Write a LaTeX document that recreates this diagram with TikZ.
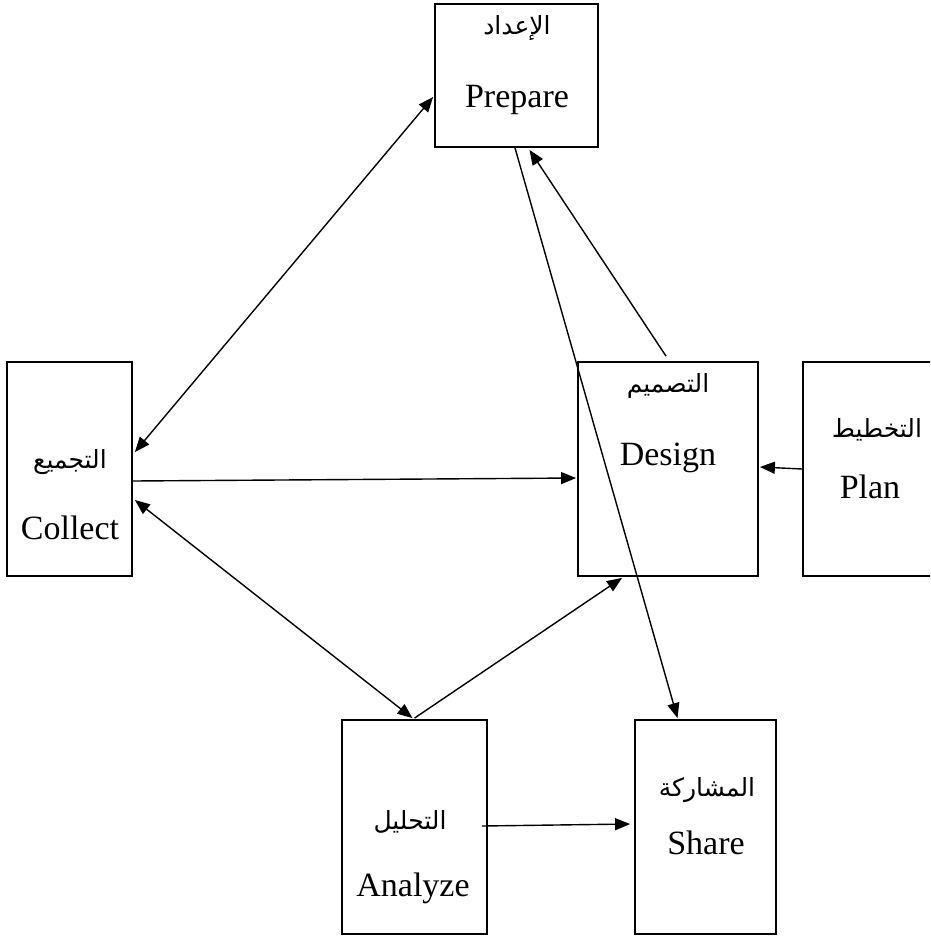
\documentclass[tikz,border=0pt]{standalone}
\usepackage{fontspec}
\setmainfont{Liberation Serif}
\newfontfamily\arabicfont[Script=Arabic]{DejaVu Sans}
\TeXXeTstate=1
\usetikzlibrary{arrows.meta,calc}
\begin{document}
\begin{tikzpicture}[x=1pt,y=-1pt,
  box/.style={draw,line width=1.8pt,minimum width=#1,inner sep=0pt},
  box/.default={140pt},
  lat/.style={font=\fontsize{34}{40}\selectfont,inner sep=0pt},
  arb/.style={font=\arabicfont\fontsize{25}{30}\selectfont,inner sep=0pt},
  conn/.style={line width=1.4pt,-{Triangle[length=15pt,width=12pt]}},
  conn2/.style={line width=1.4pt,{Triangle[length=15pt,width=12pt]}-{Triangle[length=15pt,width=12pt]}}]
\clip (0,0) rectangle (930,938);
\fill[white] (0,0) rectangle (930,938);
% boxes
\node[box=163pt,minimum height=143pt] (prep) at (516.5,75.5) {};
\node[box=125pt,minimum height=214pt] (col) at (69.5,469) {};
\node[box=180pt,minimum height=214pt] (des) at (668,469) {};
\node[box=157pt,minimum height=214pt] (plan) at (881.5,469) {};
\node[box=145pt,minimum height=214pt] (ana) at (414.5,827) {};
\node[box=141pt,minimum height=214pt] (sha) at (705.5,827) {};
% labels
\node[arb] (prepA) at (517,28) {\beginR الإعداد\endR};
\node[lat] (prepL) at (517,100) {Prepare};
\node[arb] (colA) at (70,462) {\beginR التجميع\endR};
\node[lat] (colL) at (70,528) {Collect};
\node[arb] (desA) at (668,386) {\beginR التصميم\endR};
\node[lat] (desL) at (668,458) {Design};
\node[arb] (planA) at (877,430) {\beginR التخطيط\endR};
\node[lat] (planL) at (870,487) {Plan};
\node[arb] (anaA) at (410,822) {\beginR التحليل\endR};
\node[lat] (anaL) at (413,888) {Analyze};
\node[arb] (shaA) at (707,790) {\beginR المشاركة\endR};
\node[lat] (shaL) at (706,843) {Share};
% connectors
\draw[conn2] ($(prep.west)+(-1,21.5)$) -- ($(col.east)+(2,-17)$);
\draw[conn] ($(col.east)+(0,12)$) -- ($(des.west)+(-1,9)$);
\draw[conn2] ($(col.east)+(2,31)$) -- ($(ana.north)+(-2,-1)$);
\draw[conn] ($(ana.north)+(0,-1)$) -- ($(des.south)+(-46,1)$);
\draw[conn] ($(des.north)+(-2,-5)$) -- ($(prep.south)+(13,2)$);
\draw[conn] ($(prep.south)+(-1.5,0)$) -- ($(sha.north)+(-28,-1)$);
\draw[conn] (plan.west) -- ($(des.east)+(1,-2)$);
\draw[conn] ($(ana.east)+(-6,-1)$) -- ($(sha.west)+(-4,-3)$);
\end{tikzpicture}
\end{document}
